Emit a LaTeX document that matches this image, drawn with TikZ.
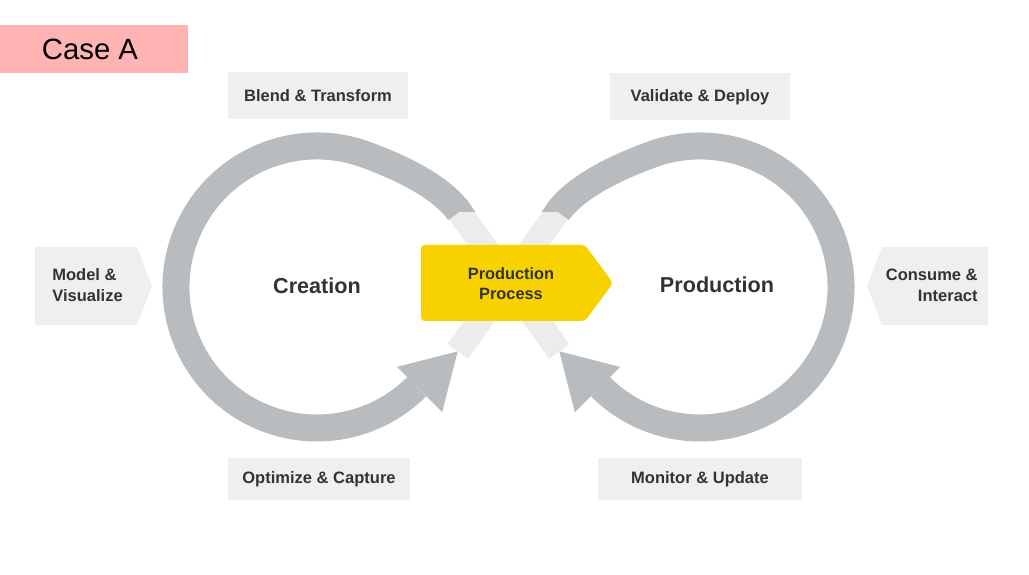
\documentclass[tikz,border=0pt]{standalone}
\usepackage{fontspec}
\setmainfont{Liberation Sans}
\usetikzlibrary{calc}

\definecolor{loopgray}{RGB}{185,188,191}
\definecolor{fadegray}{RGB}{236,236,236}
\definecolor{boxgray}{RGB}{239,239,239}
\definecolor{procyellow}{RGB}{247,209,0}
\definecolor{casepink}{RGB}{255,179,179}
\definecolor{txtgray}{RGB}{51,51,51}

\tikzset{
  band/.style={draw=loopgray, line width=0.54cm},
  fadeband/.style={draw=fadegray, line width=0.5cm},
  stagebox/.style={fill=boxgray, minimum width=3.62cm, minimum height=0.94cm, inner sep=0pt,
    font=\fontsize{9.4}{11.5}\selectfont\bfseries, text=txtgray},
  looplabel/.style={font=\fontsize{12.3}{14}\selectfont\bfseries, text=txtgray},
  sidelabel/.style={font=\fontsize{9.4}{11.9}\selectfont\bfseries, text=txtgray, inner sep=0pt},
}

\begin{document}
\begin{tikzpicture}[x=0.02cm, y=0.02cm]
\useasboundingbox (0,0) rectangle (1029,575);

% tag
\fill[casepink] (0,502) rectangle (188,550);
\node[font=\fontsize{16.7}{20}\selectfont] (case) at (90,526) {Case A};

\coordinate (OL) at (317,288);
\coordinate (OR) at (700,288);
\coordinate (EL) at (459,363);
\coordinate (ER) at (558,363);
\coordinate (BL) at ($(OL)+(315:145)$);
\coordinate (BR) at ($(OR)+(225:145)$);
\coordinate (tipL) at ($(BL)+(45:54)$);
\coordinate (tipR) at ($(BR)+(135:54)$);

% faded crossing
\begin{scope}
\clip (0,0) rectangle (1029,363);
\draw[fadeband] ($(EL)+(125:20)$) -- (tipR);
\draw[fadeband] ($(ER)+(55:20)$) -- (tipL);
\end{scope}

% loops
\draw[band] (EL) .. controls ($(EL)+(125:25)$) and ($(OL)+(70:141)+(-20:50)$) .. ($(OL)+(70:141)$)
  arc[start angle=70, end angle=315, radius=141];
\draw[band] (ER) .. controls ($(ER)+(55:25)$) and ($(OR)+(110:141)+(200:50)$) .. ($(OR)+(110:141)$)
  arc[start angle=110, end angle=-135, radius=141];

\begin{scope}
\clip (0,363) rectangle (1029,575);
\draw[band] ($(EL)+(-55:20)$) -- ($(EL)+(125:6)$);
\draw[band] ($(ER)+(235:20)$) -- ($(ER)+(55:6)$);
\end{scope}

% arrow heads
\fill[loopgray] ($(BL)+(135:32)$) -- (tipL) -- ($(BL)+(-45:32)$) -- cycle;
\fill[loopgray] ($(BR)+(45:32)$) -- (tipR) -- ($(BR)+(225:32)$) -- cycle;

% stage labels
\node[stagebox] (blend) at (318,479) {Blend \& Transform};
\node[stagebox] (validate) at (700,478) {Validate \& Deploy};
\node[stagebox, minimum width=3.64cm, minimum height=0.84cm] (optimize) at (319,96) {Optimize \& Capture};
\node[stagebox, minimum width=4.08cm, minimum height=0.84cm] (monitor) at (700,96) {Monitor \& Update};

\fill[boxgray] (35,250) -- (137,250) -- (152,289) -- (137,328) -- (35,328) -- cycle;
\node[sidelabel, align=left, anchor=west] (model) at (52,289.5) {Model \&\\Visualize};
\fill[boxgray] (988,250) -- (882,250) -- (867,289) -- (882,328) -- (988,328) -- cycle;
\node[sidelabel, align=right, anchor=east] (consume) at (978,289.5) {Consume \&\\Interact};

\node[looplabel] (creation) at (317,289) {Creation};
\node[looplabel] (production) at (717,290) {Production};

% centre box
\fill[procyellow, rounded corners=2pt] (421,254) -- (585,254) -- (613,292) -- (585,330) -- (421,330) -- cycle;
\node[sidelabel, align=center, font=\fontsize{9.3}{11.4}\selectfont\bfseries] (proc) at (511,291) {Production\\Process};
\end{tikzpicture}
\end{document}
